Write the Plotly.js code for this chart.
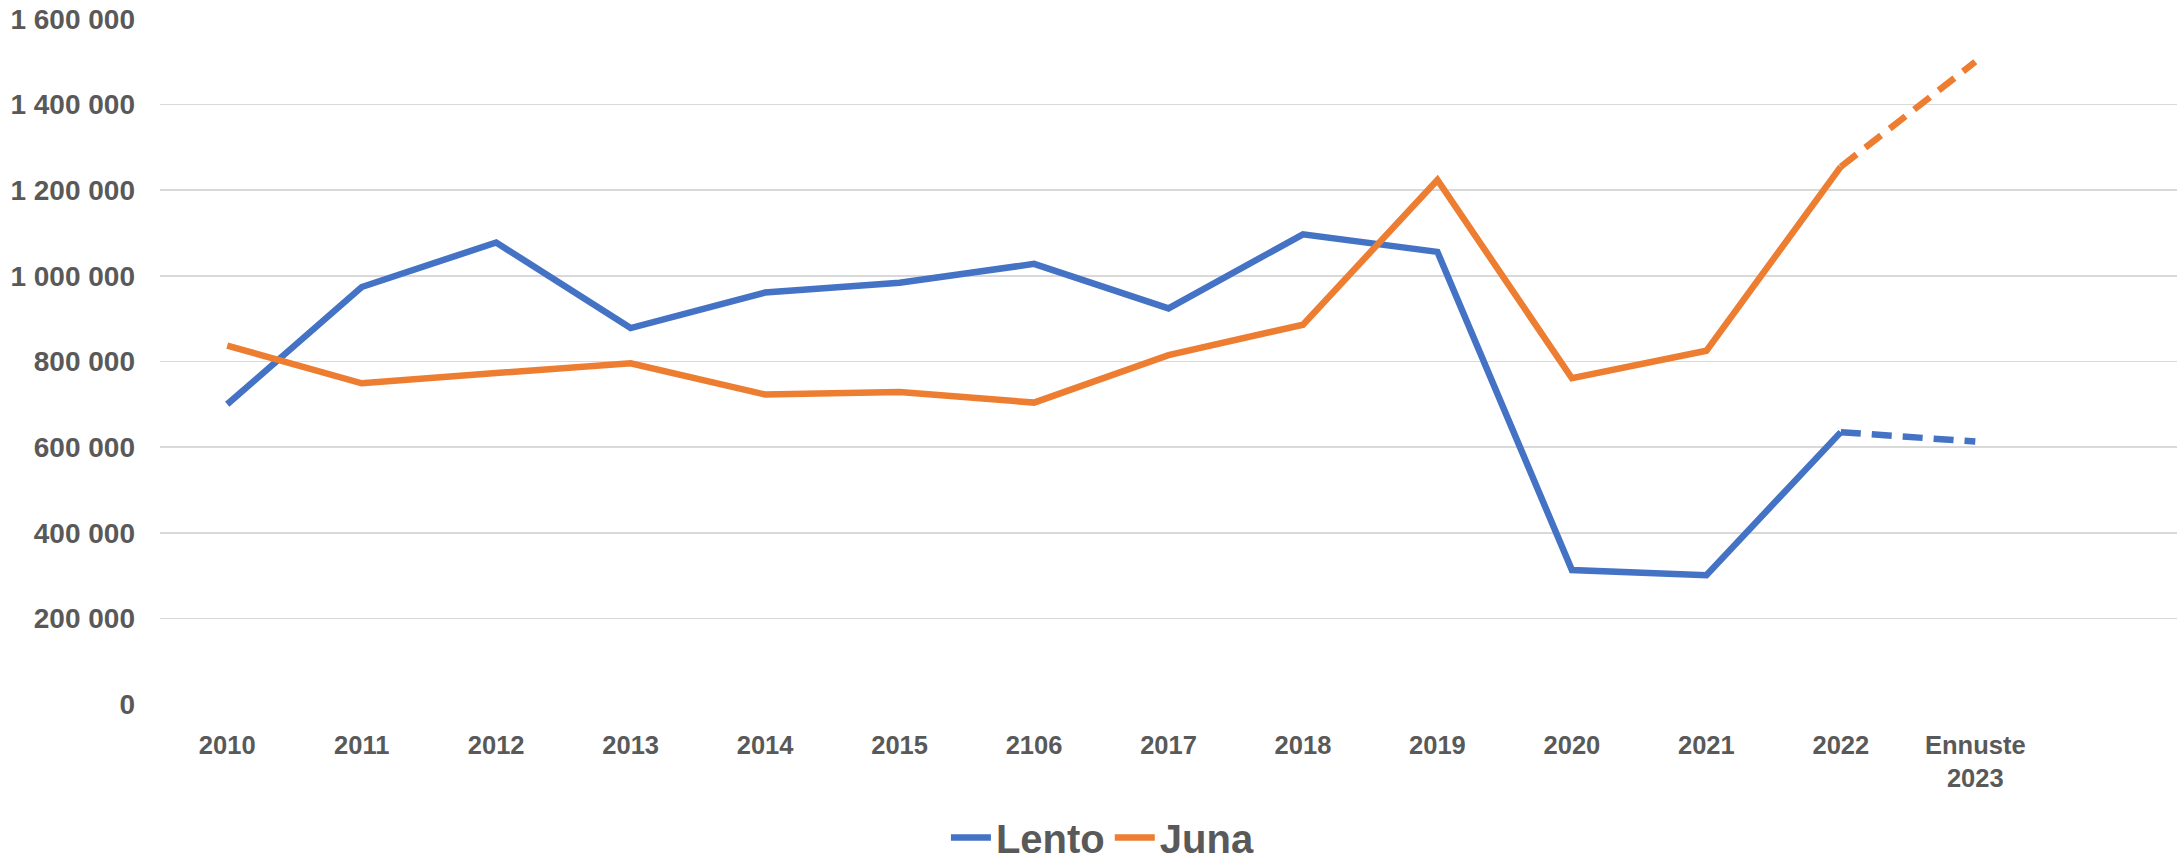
<!DOCTYPE html>
<html>
<head>
<meta charset="utf-8">
<script src="https://cdn.plot.ly/plotly-3.0.1.min.js"></script>
<style>html,body{margin:0;padding:0;background:#fff;}#chart{width:2183px;height:868px;}</style>
</head>
<body>
<div id="chart"></div>
<script>
// Categories (x axis)
const categories = ["2010","2011","2012","2013","2014","2015","2106","2017","2018","2019","2020","2021","2022","Ennuste<br>2023"];
// Series values (last value is the 2023 forecast, drawn dashed)
const lento = [700000, 974000, 1078000, 878000, 961000, 984000, 1028000, 924000, 1097000, 1056000, 313000, 301000, 635000, 613000];
const juna  = [837000, 749000, 773000, 796000, 723000, 729000, 704000, 815000, 886000, 1224000, 761000, 825000, 1255000, 1500000];
const seriesNames = ["Lento", "Juna"];
const yTicks = [0, 200000, 400000, 600000, 800000, 1000000, 1200000, 1400000, 1600000];

const blue = "#4472C4", orange = "#ED7D31", textCol = "#595959";
const nActual = categories.length - 1;   // index of forecast point

function solid(name, vals, color) {
  return {type: "scatter", mode: "lines", name: name,
    x: categories.slice(0, nActual), y: vals.slice(0, nActual),
    line: {color: color, width: 6.5}, hoverinfo: "x+y"};
}
function dashed(name, vals, color) {
  return {type: "scatter", mode: "lines", name: name, showlegend: false,
    x: categories.slice(nActual - 1), y: vals.slice(nActual - 1),
    line: {color: color, width: 6.5, dash: "20px,11px"}, hoverinfo: "x+y"};
}

const data = [
  solid(seriesNames[0], lento, blue),
  solid(seriesNames[1], juna, orange),
  dashed(seriesNames[0], lento, blue),
  dashed(seriesNames[1], juna, orange)
];

const layout = {
  width: 2183, height: 868,
  margin: {l: 160, r: 6, t: 19, b: 164, pad: 0},
  paper_bgcolor: "#fff", plot_bgcolor: "#fff",
  separators: ". ",
  font: {family: "Liberation Sans, Arial, sans-serif", color: textCol},
  xaxis: {
    type: "category", categoryorder: "array", categoryarray: categories,
    range: [-0.5, 14.5], showgrid: false, zeroline: false, showline: false,
    ticks: "", ticklabelstandoff: 23,
    tickfont: {family: "Liberation Sans, Arial, sans-serif", size: 25.5, color: textCol, weight: "bold"}
  },
  yaxis: {
    range: [0, 1600000], tickvals: yTicks, tickformat: ",d",
    showgrid: true, gridcolor: "#D9D9D9", gridwidth: 1.6,
    zeroline: false, showline: false, ticks: "", ticklabelstandoff: 24,
    tickfont: {family: "Liberation Sans, Arial, sans-serif", size: 28, color: textCol, weight: "bold"}
  },
  legend: {
    orientation: "h", xref: "container", yref: "container",
    x: 0.505, xanchor: "center", y: 0.035, yanchor: "middle",
    font: {family: "Liberation Sans, Arial, sans-serif", size: 40, color: textCol, weight: "bold"},
    itemwidth: 40, tracegroupgap: 0, borderwidth: 0
  },
  showlegend: true
};

Plotly.newPlot("chart", data, layout, {displayModeBar: false, staticPlot: true});
</script>
</body>
</html>
